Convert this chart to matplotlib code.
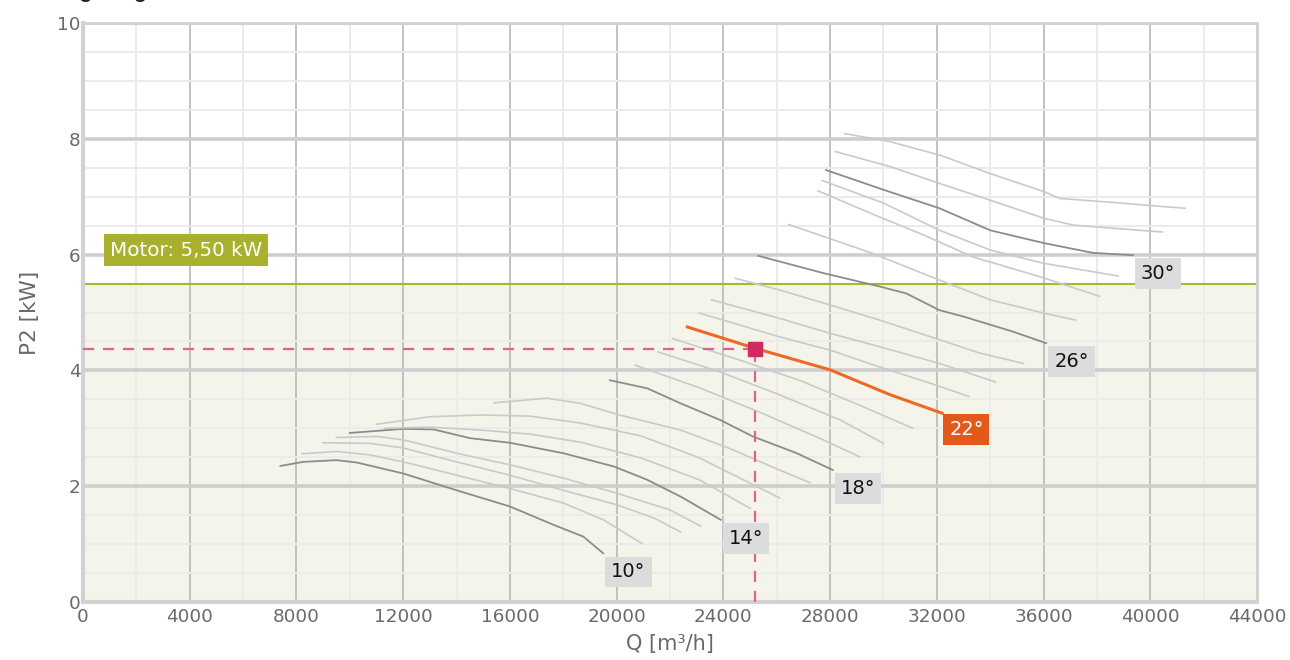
import matplotlib
matplotlib.use("Agg")
import matplotlib.pyplot as plt
from matplotlib.ticker import MultipleLocator

plt.rcParams['font.family'] = ['DejaVu Sans']

# ---------------- data (Q in m3/h, P2 in kW) ----------------
angles = [10, 11, 12, 13, 14, 15, 16, 17, 18, 19, 20, 21, 22,
          23, 24, 25, 26, 27, 28, 29, 30, 31, 32]
labelled = [10, 14, 18, 22, 26, 30]

q10 = [7400, 8250, 9500, 10250, 12000, 14000, 16000, 17650, 18750, 19500]
p10 = [2.35, 2.42, 2.45, 2.41, 2.22, 1.93, 1.65, 1.33, 1.13, 0.84]
q11 = [8200, 9500, 10750, 12000, 14000, 16000, 18000, 19500, 20950]
p11 = [2.56, 2.60, 2.54, 2.42, 2.19, 1.96, 1.71, 1.42, 1.01]
q12 = [9000, 10750, 12000, 14000, 16000, 18000, 20000, 21400, 22400]
p12 = [2.75, 2.74, 2.66, 2.42, 2.19, 1.93, 1.68, 1.45, 1.21]
q13 = [9500, 11000, 12000, 14000, 16000, 18000, 20000, 22000, 23150]
p13 = [2.84, 2.86, 2.80, 2.57, 2.37, 2.14, 1.88, 1.59, 1.31]
q14 = [10000, 12000, 13150, 14500, 16000, 18000, 19900, 21150, 22400, 23900]
p14 = [2.92, 2.99, 2.98, 2.83, 2.75, 2.57, 2.34, 2.11, 1.82, 1.42]
q15 = [11300, 13000, 14900, 16750, 18650, 20900, 23100, 25000]
p15 = [3.00, 3.02, 2.97, 2.90, 2.76, 2.49, 2.11, 1.62]
q16 = [11000, 13000, 14900, 16750, 18650, 20900, 23100, 26100]
p16 = [3.07, 3.20, 3.23, 3.21, 3.09, 2.87, 2.49, 1.80]
q17 = [15400, 17400, 18650, 20100, 22400, 24250, 26100, 27250]
p17 = [3.44, 3.52, 3.43, 3.23, 2.97, 2.65, 2.28, 2.06]
q18 = [19750, 21150, 22400, 23900, 25100, 26750, 28100]
p18 = [3.83, 3.69, 3.43, 3.14, 2.86, 2.57, 2.28]
q19 = [20700, 23100, 25350, 27600, 29100]
p19 = [4.09, 3.70, 3.28, 2.83, 2.51]
q20 = [21550, 23900, 26100, 28400, 30000]
p20 = [4.32, 3.97, 3.58, 3.14, 2.74]
q21 = [22100, 24600, 26850, 29100, 31100]
p21 = [4.55, 4.18, 3.83, 3.40, 3.00]
q22 = [22650, 25200, 28000, 30250, 32200]
p22 = [4.75, 4.38, 4.01, 3.58, 3.26]
q23 = [23100, 26100, 28000, 29850, 31750, 33200]
p23 = [4.99, 4.58, 4.35, 4.06, 3.78, 3.55]
q24 = [23550, 26100, 28000, 29850, 32100, 34200]
p24 = [5.22, 4.90, 4.64, 4.41, 4.12, 3.80]
q25 = [24450, 26100, 28000, 29850, 32100, 33600, 35250]
p25 = [5.59, 5.39, 5.13, 4.87, 4.53, 4.30, 4.12]
q26 = [25300, 27750, 29850, 30850, 32100, 33000, 34850, 36100]
p26 = [5.98, 5.68, 5.45, 5.33, 5.04, 4.93, 4.67, 4.47]
q27 = [26450, 29600, 32100, 34000, 36000, 37200]
p27 = [6.52, 6.02, 5.56, 5.22, 4.99, 4.87]
q28 = [27550, 29850, 31500, 33350, 35850, 38100]
p28 = [7.10, 6.65, 6.34, 5.96, 5.62, 5.28]
q29 = [27700, 30000, 32100, 34000, 36000, 38800]
p29 = [7.28, 6.89, 6.42, 6.08, 5.85, 5.63]
q30 = [27850, 30000, 32100, 34000, 36000, 37850, 39350]
p30 = [7.46, 7.12, 6.80, 6.42, 6.20, 6.03, 5.99]
q31 = [28200, 30250, 32100, 34000, 36000, 37100, 40450]
p31 = [7.78, 7.52, 7.23, 6.94, 6.63, 6.51, 6.39]
q32 = [28550, 30250, 32100, 34000, 36000, 36600, 38350, 41300]
p32 = [8.09, 7.95, 7.72, 7.40, 7.09, 6.97, 6.91, 6.80]

curves_q = [q10, q11, q12, q13, q14, q15, q16, q17, q18, q19, q20, q21, q22,
            q23, q24, q25, q26, q27, q28, q29, q30, q31, q32]
curves_p = [p10, p11, p12, p13, p14, p15, p16, p17, p18, p19, p20, p21, p22,
            p23, p24, p25, p26, p27, p28, p29, p30, p31, p32]

selected_angle = 22
op_q = 25200
op_p = 4.37
motor_kw = 5.5
motor_text = "Motor: 5,50 kW"

xticks = list(range(0, 44001, 4000))
yticks = [0, 2, 4, 6, 8, 10]

# ---------------- figure ----------------
fig = plt.figure(figsize=(12.9, 6.6), dpi=100)
ax = fig.add_axes([83 / 1290, 1 - 602 / 660, (1257 - 83) / 1290, (602 - 23) / 660])
ax.set_xlim(0, 44000)
ax.set_ylim(0, 10)

ax.axhspan(0, motor_kw, color='#f4f4ea', zorder=0.1, lw=0)
ax.axhline(motor_kw, color='#a9b82a', lw=1.5, zorder=2)

ax.set_axisbelow(True)
ax.xaxis.set_major_locator(MultipleLocator(4000))
ax.xaxis.set_minor_locator(MultipleLocator(2000))
ax.yaxis.set_major_locator(MultipleLocator(2))
ax.yaxis.set_minor_locator(MultipleLocator(0.5))
ax.grid(which='minor', color='#ebebeb', lw=1.4)
ax.grid(which='major', axis='x', color='#bdbdbd', lw=1.3)
ax.grid(which='major', axis='y', color='#cecece', lw=2.6)

for s in ax.spines.values():
    s.set_color('#d2d2d2')
ax.spines['left'].set_linewidth(3)
ax.spines['bottom'].set_linewidth(3)
ax.spines['top'].set_linewidth(2)
ax.spines['right'].set_linewidth(2)

ax.set_xticks(xticks)
ax.set_yticks(yticks)
ax.tick_params(which='both', length=0, labelsize=13.2, colors='#6a6a6a')
ax.tick_params(axis='x', pad=4)
ax.tick_params(axis='y', pad=2)

ax.set_xlabel("Q [m³/h]", fontsize=15, color='#6a6a6a', labelpad=6)
ax.set_ylabel("P2 [kW]", fontsize=15.5, color='#6a6a6a', labelpad=12)

for ang, qs, ps in zip(angles, curves_q, curves_p):
    if ang == selected_angle:
        ax.plot(qs, ps, color='#ec6a25', lw=2.2, zorder=4)
        ax.annotate(f"{ang}°", xy=(qs[-1], ps[-1]), xytext=(7, -7),
                    textcoords='offset pixels', ha='left', va='top',
                    fontsize=14, color='white', zorder=6,
                    bbox=dict(boxstyle='square,pad=0.3', fc='#e2591a', ec='none'))
    elif ang in labelled:
        ax.plot(qs, ps, color='#8c8c8c', lw=1.3, zorder=3)
        ax.annotate(f"{ang}°", xy=(qs[-1], ps[-1]), xytext=(8, -9),
                    textcoords='offset pixels', ha='left', va='top',
                    fontsize=14, color='#111111', zorder=6,
                    bbox=dict(boxstyle='square,pad=0.3', fc='#dcdcdc', ec='none'))
    else:
        ax.plot(qs, ps, color='#cacaca', lw=1.2, zorder=3)

# operating point
ax.plot([0, op_q], [op_p, op_p], color='#e2628b', lw=1.6, dashes=(5, 4), zorder=5)
ax.plot([op_q, op_q], [0, op_p], color='#e2628b', lw=1.6, dashes=(5, 4), zorder=5)
ax.plot([op_q], [op_p], marker='s', ms=10, color='#d12a5f', zorder=7)

# motor label
ax.annotate(motor_text, xy=(0, motor_kw), xytext=(27, 24),
            textcoords='offset pixels', ha='left', va='bottom',
            fontsize=14.3, color='white', zorder=6,
            bbox=dict(boxstyle='square,pad=0.32', fc='#a8b02e', ec='none'))

# partially visible title at the very top
fig.text(0.004, 1 + 1.5 / 660, "Leistungsdiagramm", fontsize=15, fontweight='bold',
         family='Liberation Sans', color='#222222', ha='left', va='baseline')

fig.savefig("out.png", dpi=100)
